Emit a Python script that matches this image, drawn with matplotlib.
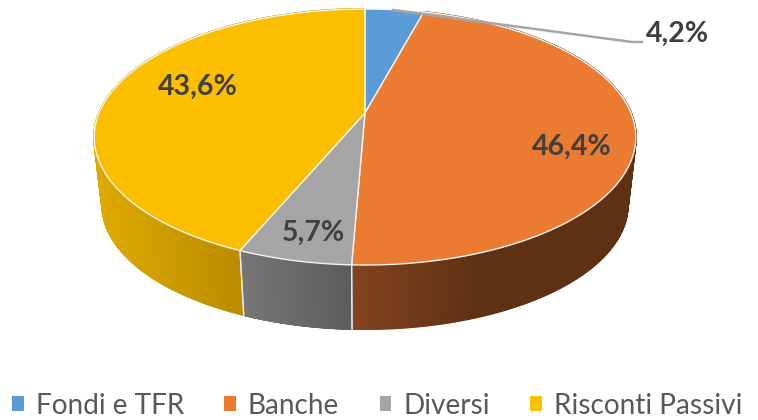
"""
Patrimonio passivo - 3D looking pie drawn by hand, matplotlib has no real 3D pie.
"""
import matplotlib.pyplot as plt
import numpy as np
from matplotlib.collections import PolyCollection
from matplotlib.colors import to_rgb
from matplotlib.patches import Patch

labels = ["Fondi e TFR", "Banche", "Diversi", "Risconti Passivi"]
values = [4.2, 46.4, 5.7, 43.6]
value_labels = ["4,2%", "46,4%", "5,7%", "43,6%"]
top_colors = ["#5B9BD5", "#EB7B30", "#A5A5A5", "#FBBF00"]
wall_colors = [
    ["#3A6A94", "#3A6A94"],
    ["#84441E", "#5E3114", "#5E3114"],
    ["#767676", "#5C5C5C"],
    ["#DEAA00", "#B98C00"],
]

plt.rcParams["font.family"] = ["Lato", "DejaVu Sans"]

# pie geometry in pixels, with a bit of perspective
CX, CY = 365, 113
A, B, K = 266, 123.5, 0.1875
WALL_SCALE, WALL_DROP = 0.97, 68.6


def project(t):
    """Clockwise angle from the top of the pie -> rim point on the picture."""
    u, v = np.sin(t), np.cos(t)
    d = 1 + K * v
    return CX + A * u / d, CY - B * v / d


def wall_bottom(x, y):
    return CX + (x - CX) * WALL_SCALE, CY + (y - CY) * WALL_SCALE + WALL_DROP


def wall_shades(x, stops):
    """Colour of each wall strip, blended left to right across the slice."""
    rgb = np.array([to_rgb(c) for c in stops])
    if len(stops) == 3:
        # orange wall darkens quickly and then stays flat
        pos = [x.min(), x.min() + 128, x.max()]
    else:
        pos = [x.min(), x.max()]
    return np.column_stack([np.interp(x, pos, rgb[:, k]) for k in range(3)])


fig = plt.figure(figsize=(7.58, 4.2), dpi=100)
ax = fig.add_axes([0, 0, 1, 1])
ax.axis("off")

edges = np.cumsum([0] + values) / sum(values) * 2 * np.pi

# side walls first, the tops go over whatever should be hidden
for i in [1, 2, 3]:
    t = np.linspace(edges[i], edges[i + 1], 300)
    x, y = project(t)
    xb, yb = wall_bottom(x, y)
    strips = [
        [(x[j], y[j]), (x[j + 1], y[j + 1]), (xb[j + 1], yb[j + 1]), (xb[j], yb[j])]
        for j in range(len(t) - 1)
    ]
    visible = y > CY
    mid = (x[:-1] + x[1:]) / 2
    shades = wall_shades(x[visible], wall_colors[i])
    colors = np.column_stack(
        [np.interp(mid, np.sort(x[visible]), shades[np.argsort(x[visible]), k]) for k in range(3)]
    )
    ax.add_collection(PolyCollection(strips, facecolors=colors, edgecolors=colors, linewidths=1.4, zorder=1))

    # light seam between neighbouring walls
    for j in [0, -1]:
        ax.plot([x[j], xb[j]], [y[j], yb[j]], color="#E8E8E8", lw=0.9, zorder=2)

# top of the pie
for i in range(len(values)):
    t = np.linspace(edges[i], edges[i + 1], 200)
    x, y = project(t)
    ax.fill(
        np.r_[CX, x],
        np.r_[CY, y],
        facecolor=top_colors[i],
        edgecolor="#F4F4F4",
        lw=1.0,
        joinstyle="round",
        zorder=3,
    )

# leader line for the small slice
ax.plot([393, 632, 642], [10, 42, 42], color="#A5A5A5", lw=1.8, zorder=4)

label_font = dict(fontsize=20.5, fontweight="bold", color="#404040", ha="center", va="center", zorder=5)
ax.text(677, 33.5, value_labels[0], **label_font)
ax.text(572, 146.5, value_labels[1], **label_font)
ax.text(313, 232.5, value_labels[2], **label_font)
ax.text(198, 86.5, value_labels[3], **label_font)

handles = [Patch(facecolor=c, edgecolor="none") for c in top_colors]
ax.legend(
    handles,
    labels,
    ncol=4,
    loc="center left",
    bbox_to_anchor=(0.0158, 0.034),
    frameon=False,
    fontsize=20.2,
    labelcolor="#595959",
    handlelength=0.42,
    handleheight=0.42,
    handletextpad=0.42,
    columnspacing=1.44,
    borderpad=0,
    borderaxespad=0,
)

ax.set_xlim(0, 758)
ax.set_ylim(420, 0)

plt.savefig("out.png", dpi=100, facecolor="white")
